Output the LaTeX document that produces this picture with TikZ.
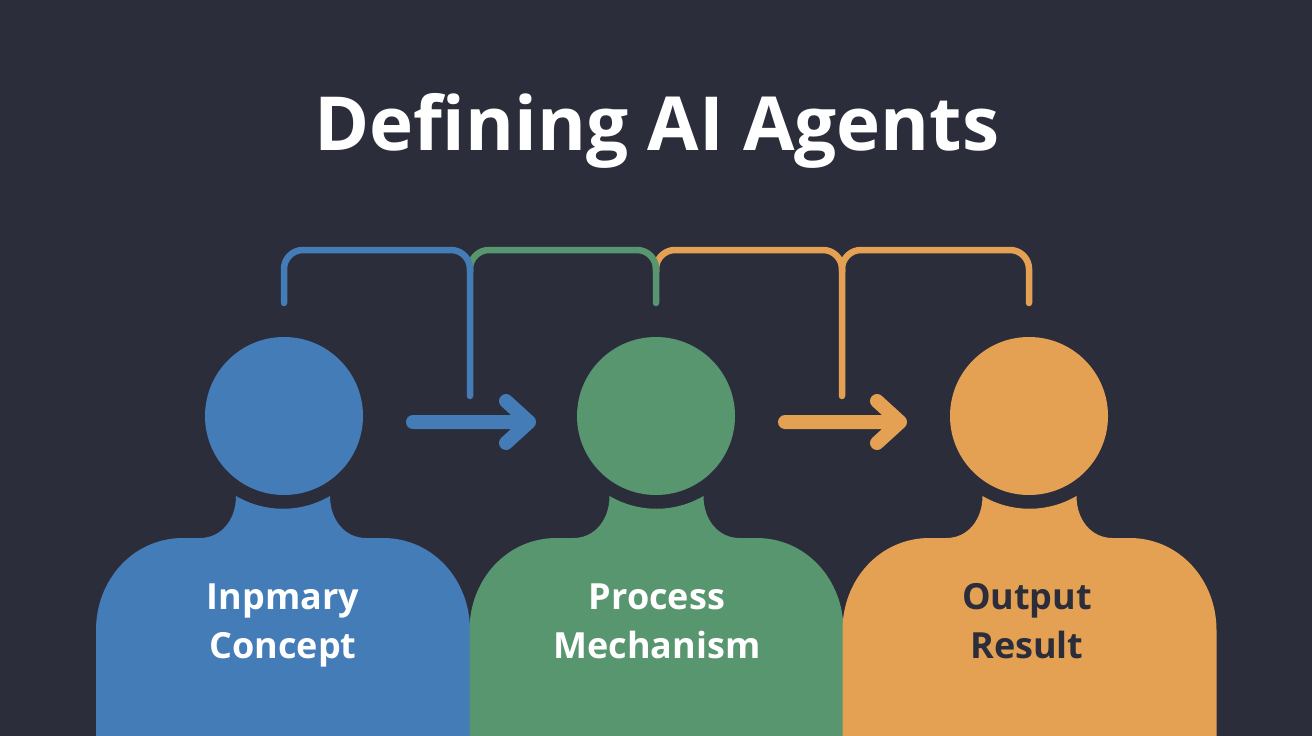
\documentclass[tikz,border=0pt]{standalone}
\usepackage{fontspec}
\setmainfont{Open Sans}
\usetikzlibrary{calc}

\definecolor{pagebg}{HTML}{2B2D3B}
\definecolor{inputblue}{HTML}{447CB8}
\definecolor{processgreen}{HTML}{58966F}
\definecolor{outputorange}{HTML}{E4A153}

\tikzset{
  head/.style={circle,minimum size=158pt,inner sep=0pt},
  wire/.style={line width=6.5pt,line cap=round,rounded corners=19pt},
  flow/.style={line width=14pt,line cap=round,line join=round},
  bodytext/.style={align=center,font=\fontsize{36}{49}\selectfont\bfseries}
}

\newcommand{\personbody}[2]{
  \fill[#2,shift={(#1,0)}] (-47,496) .. controls (-18,513) and (18,513) .. (47,496)
    .. controls (47,520) and (62,538) .. (83,538) -- (100,538)
    .. controls (150,538) and (187,580) .. (187,630) -- (187,736) -- (-187,736) -- (-187,630)
    .. controls (-187,580) and (-150,538) .. (-100,538) -- (-83,538)
    .. controls (-62,538) and (-47,520) .. (-47,496) -- cycle;
}

\begin{document}
\begin{tikzpicture}[x=1pt,y=-1pt]
  % Page
  \fill[pagebg] (0,0) rectangle (1312,736);
  \node[white,font=\fontsize{74.6}{75}\selectfont\bfseries] (title) at (657,131) {Defining AI Agents};

  % Bodies and heads
  \personbody{283}{inputblue}
  \personbody{656.5}{processgreen}
  \personbody{1029.5}{outputorange}
  \node[head,fill=inputblue] (inputhead) at (284,416) {};
  \node[head,fill=processgreen] (processhead) at (656,416) {};
  \node[head,fill=outputorange] (outputhead) at (1029,416) {};
  \node[bodytext,white] (inputtext) at (283,625) {Inpmary\\Concept};
  \node[bodytext,white] (processtext) at (657,621) {Process\\Mechanism};
  \node[bodytext,pagebg] (outputtext) at (1027,621) {Output\\Result};

  % Top rail
  \coordinate (inputtap) at (284,303);
  \coordinate (processtap) at (656,303);
  \coordinate (outputtap) at (1029,303);
  \coordinate (firstdrop) at (470,396);
  \coordinate (seconddrop) at (842,396);
  \draw[wire,outputorange] (656,272) |- (842,250) -- (seconddrop);
  \draw[wire,outputorange] (842,272) |- (1029,250) -- (outputtap);
  \draw[wire,processgreen] (470,272) |- (656,250) -- (processtap);
  \draw[wire,inputblue] (inputtap) |- (470,250) -- (firstdrop);

  % Arrows between heads
  \coordinate (firststart) at (413,422);
  \coordinate (firstend) at (529,422);
  \coordinate (secondstart) at (785,422);
  \coordinate (secondend) at (900,422);
  \draw[flow,inputblue] (firststart) -- (firstend)
    ($(firstend)+(-23,-21)$) -- (firstend) -- ($(firstend)+(-23,21)$);
  \draw[flow,outputorange] (secondstart) -- (secondend)
    ($(secondend)+(-23,-21)$) -- (secondend) -- ($(secondend)+(-23,21)$);
\end{tikzpicture}
\end{document}
